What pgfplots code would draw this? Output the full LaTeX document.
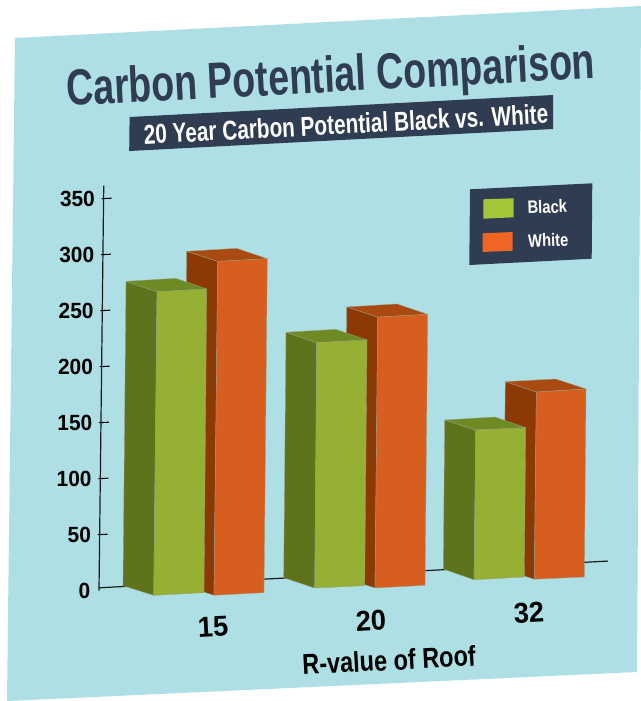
\documentclass[border=0pt]{standalone}
\usepackage{fontspec}
\usepackage{pgfplots}
\pgfplotsset{compat=1.18}
\setmainfont{Liberation Sans}
\newfontfamily\cond[FakeStretch=0.82]{Liberation Sans}
\newfontfamily\subt[FakeStretch=0.76]{Liberation Sans}
\newfontfamily\ttl[FakeStretch=0.74]{Liberation Sans}
\newfontfamily\ticksf[FakeStretch=0.95]{Liberation Sans}
\definecolor{panel}{HTML}{AEDFE4}
\definecolor{navy}{HTML}{303C52}
\definecolor{gfront}{HTML}{95B033}
\definecolor{gside}{HTML}{5D741C}
\definecolor{gtop}{HTML}{6E8A25}
\definecolor{ofront}{HTML}{D85E20}
\definecolor{oside}{HTML}{8C3A05}
\definecolor{otop}{HTML}{A84A12}
\definecolor{legB}{HTML}{A4C639}
\definecolor{legW}{HTML}{EE6524}
\definecolor{edge}{HTML}{9A9E7E}
\begin{document}
% picture coordinates are the pixels of the reference, y going down
\begin{tikzpicture}[x=0.75pt,y=-0.75pt]
\useasboundingbox (0,0) rectangle (641,701);
\fill[white] (0,0) rectangle (641,701);
\fill[panel] (15,38) -- (641,6) -- (637,672) -- (7,701) -- cycle;

% titles
\node[rotate=3,text=navy,font=\ttl\bfseries\fontsize{38}{38}\selectfont] at (331,79) {Carbon Potential Comparison};
\fill[navy] (129.6,117) -- (553,95) -- (553,129) -- (129.2,151) -- cycle;
\node[rotate=3,text=white,font=\subt\bfseries\fontsize{20.5}{20.5}\selectfont] at (346,124) {20 Year Carbon Potential Black vs. White};

\begin{axis}[
    at={(74.25pt,-443.025pt)}, anchor=origin,
    x={(120pt,6.3pt)}, y={(0.009825pt,0.84pt)},
    xmin=0, xmax=3.18, ymin=0, ymax=361.6,
    clip=false,
    axis y line=left, y axis line style={-, line width=0.9pt, draw=black!90},
    hide x axis,
    xtick=\empty,
    ytick={50,100,150,200,250,300,350},
    extra y ticks={0},
    extra y tick style={major tick length=0pt},
    tick align=inside,
    major tick length=7.5pt,
    y tick style={line width=0.8pt, black, xshift=-1.5pt},
    yticklabel style={font=\ticksf\bfseries\fontsize{16.5}{16.5}\selectfont, /pgf/number format/assume math mode=true, anchor=east, xshift=-3pt},
    every axis plot/.append style={no markers, line width=0.25pt},
]
% baseline
\addplot[black!90, line width=0.9pt] coordinates {(0,2.6) (3.18,2.6)};

% 15: white then black
\addplot[fill=oside, draw=edge] coordinates {(0.5237,299.1) (0.7183,288.7) (0.7195,-9.5) (0.5249,0.9) (0.5237,299.1)};
\addplot[fill=otop, draw=edge] coordinates {(0.5237,299.1) (0.8362,299.4) (1.0283,288.7) (0.7183,288.7) (0.5237,299.1)};
\addplot[fill=ofront, draw=edge] coordinates {(0.7183,288.7) (1.0283,288.7) (1.0320,-9.5) (0.7195,-9.5) (0.7183,288.7)};
\addplot[fill=gside, draw=edge] coordinates {(0.1463,275.1) (0.3409,264.4) (0.3424,-6.7) (0.1497,3.3) (0.1463,275.1)};
\addplot[fill=gtop, draw=edge] coordinates {(0.1463,275.1) (0.4569,275.5) (0.6515,264.5) (0.3409,264.4) (0.1463,275.1)};
\addplot[fill=gfront, draw=edge] coordinates {(0.3409,264.4) (0.6515,264.5) (0.6568,-6.7) (0.3424,-6.7) (0.3409,264.4)};

% 20
\addplot[fill=oside, draw=edge] coordinates {(1.5284,241.9) (1.7230,231.4) (1.7259,-10.5) (1.5313,-0.1) (1.5284,241.9)};
\addplot[fill=otop, draw=edge] coordinates {(1.5284,241.9) (1.8427,242.2) (2.0355,231.5) (1.7230,231.4) (1.5284,241.9)};
\addplot[fill=ofront, draw=edge] coordinates {(1.7230,231.4) (2.0355,231.5) (2.0384,-10.5) (1.7259,-10.5) (1.7230,231.4)};
\addplot[fill=gside, draw=edge] coordinates {(1.1506,222.1) (1.3434,211.4) (1.3488,-7.7) (1.1541,2.95) (1.1506,222.1)};
\addplot[fill=gtop, draw=edge] coordinates {(1.1506,222.1) (1.4612,222.4) (1.6578,211.4) (1.3434,211.4) (1.1506,222.1)};
\addplot[fill=gfront, draw=edge] coordinates {(1.3434,211.4) (1.6578,211.4) (1.6613,-8.0) (1.3488,-7.7) (1.3434,211.4)};

% 32
\addplot[fill=oside, draw=edge] coordinates {(2.5257,167.7) (2.7204,157.0) (2.7216,-10.2) (2.5269,0.4) (2.5257,167.7)};
\addplot[fill=otop, draw=edge] coordinates {(2.5257,167.7) (2.8407,167.7) (3.0310,157.4) (2.7204,157.0) (2.5257,167.7)};
\addplot[fill=ofront, draw=edge] coordinates {(2.7204,157.0) (3.0310,157.4) (3.0341,-10.5) (2.7216,-10.2) (2.7204,157.0)};
\addplot[fill=gside, draw=edge] coordinates {(2.1495,136.3) (2.3442,125.9) (2.3445,-7.8) (2.1517,3.2) (2.1495,136.3)};
\addplot[fill=gtop, draw=edge] coordinates {(2.1495,136.3) (2.4639,136.6) (2.6567,125.6) (2.3442,125.9) (2.1495,136.3)};
\addplot[fill=gfront, draw=edge] coordinates {(2.3442,125.9) (2.6567,125.6) (2.6588,-7.7) (2.3445,-7.8) (2.3442,125.9)};

% category names
\node[rotate=3,font=\ticksf\bfseries\fontsize{21.5}{21.5}\selectfont] at (axis cs:0.7156,-37.8) {15};
\node[rotate=3,font=\ticksf\bfseries\fontsize{21.5}{21.5}\selectfont] at (axis cs:1.703,-39.8) {20};
\node[rotate=3,font=\ticksf\bfseries\fontsize{21.5}{21.5}\selectfont] at (axis cs:2.69,-40) {32};
\end{axis}

\node[rotate=3,font=\cond\bfseries\fontsize{21.5}{21.5}\selectfont] at (389,660) {R-value of Roof};

% legend
\fill[navy] (470,189.3) -- (592.3,183.3) -- (591.7,258.7) -- (469.3,265) -- cycle;
\fill[legB] (483.3,199.3) -- (513.7,198.3) -- (513.7,217.3) -- (483.3,218.7) -- cycle;
\fill[legW] (482.7,233.3) -- (512.7,232) -- (512.7,250.7) -- (482.7,252) -- cycle;
\node[rotate=2,text=white,font=\cond\bfseries\fontsize{13.5}{13.5}\selectfont] at (547.3,206.7) {Black};
\node[rotate=2,text=white,font=\cond\bfseries\fontsize{13.5}{13.5}\selectfont] at (548.3,240.3) {White};
\end{tikzpicture}
\end{document}
